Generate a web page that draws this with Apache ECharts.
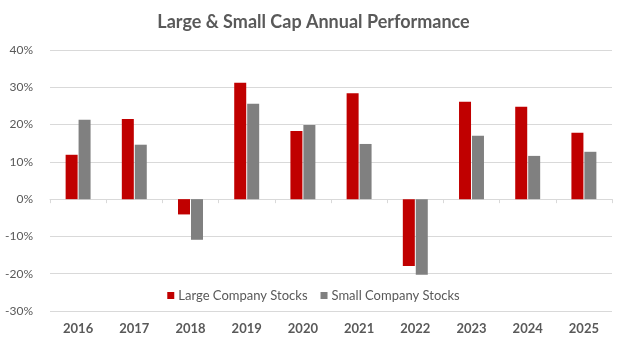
<!DOCTYPE html>
<html>
<head>
<meta charset="utf-8">
<script src="https://cdn.jsdelivr.net/npm/echarts@6/dist/echarts.min.js"></script>
<style>
  html, body { margin: 0; padding: 0; background: #fff; }
  #chart { width: 627px; height: 346px; }
</style>
</head>
<body>
<div id="chart"></div>
<script>
// Annual total returns (%) by calendar year
const years = ['2016', '2017', '2018', '2019', '2020', '2021', '2022', '2023', '2024', '2025'];
const largeCompany = [11.9, 21.5, -4.1, 31.2, 18.3, 28.4, -17.9, 26.1, 24.8, 17.8];
const smallCompany = [21.3, 14.6, -10.9, 25.6, 19.9, 14.8, -20.3, 17.0, 11.6, 12.7];

const FONT = 'Lato, "Open Sans", sans-serif';
const TEXT = '#595959';

const chart = echarts.init(document.getElementById('chart'));
chart.setOption({
  animation: false,
  title: {
    text: 'Large & Small Cap Annual Performance',
    left: 'center',
    top: 8,
    textStyle: { fontFamily: FONT, fontSize: 18, fontWeight: 'bold', color: TEXT }
  },
  legend: {
    data: ['Large Company Stocks', 'Small Company Stocks'],
    left: 'center',
    top: 284,
    icon: 'rect',
    itemWidth: 7,
    itemHeight: 7,
    itemGap: 13,
    textStyle: { fontFamily: FONT, fontSize: 13, color: TEXT, padding: [0, 0, 0, -1] }
  },
  grid: { left: 50, right: 15, top: 50, bottom: 35 },
  xAxis: [
    {
      // zero line with tick marks between years
      type: 'category',
      data: years,
      axisLine: { onZero: true, lineStyle: { color: '#d9d9d9', width: 1 } },
      axisTick: { show: true, length: 4, lineStyle: { color: '#d9d9d9' } },
      axisLabel: { show: false }
    },
    {
      // year labels along the bottom edge
      type: 'category',
      data: years,
      position: 'bottom',
      axisLine: { show: false, onZero: false },
      axisTick: { show: false },
      axisLabel: { fontFamily: FONT, fontSize: 13, fontWeight: 'bold', color: TEXT, margin: 11 }
    }
  ],
  yAxis: {
    type: 'value',
    min: -30,
    max: 40,
    interval: 10,
    axisLine: { show: false },
    axisTick: { show: false },
    splitLine: { lineStyle: { color: '#d9d9d9', width: 1 } },
    axisLabel: {
      formatter: '{value}%',
      fontFamily: FONT,
      fontSize: 12,
      color: TEXT,
      margin: 17
    }
  },
  series: [
    {
      name: 'Large Company Stocks',
      type: 'bar',
      xAxisIndex: 0,
      data: largeCompany,
      barWidth: 12,
      barGap: '8%',
      itemStyle: { color: '#c00000' }
    },
    {
      name: 'Small Company Stocks',
      type: 'bar',
      xAxisIndex: 0,
      data: smallCompany,
      barWidth: 12,
      itemStyle: { color: '#808080' }
    }
  ]
});
</script>
</body>
</html>
